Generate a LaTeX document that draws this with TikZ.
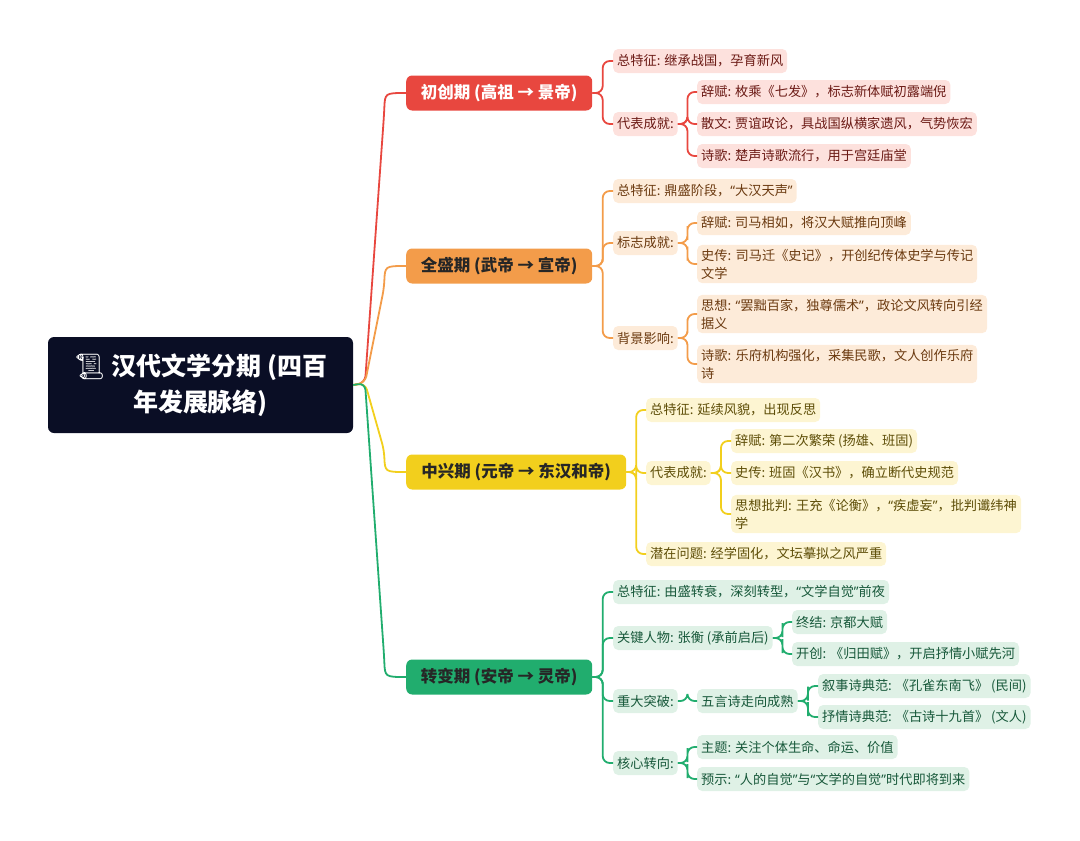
\documentclass[tikz,border=0pt]{standalone}
\usepackage{fontspec}
\setmainfont{Noto Sans CJK SC}
\newfontfamily\emo{Noto Emoji}
\newfontfamily\lat{Noto Sans}
\newcommand\qL{{\lat “}}\newcommand\qR{{\lat ”}}
\usetikzlibrary{calc}
\definecolor{rootc}{HTML}{0A0E25}
\definecolor{cR}{HTML}{E8473F}\definecolor{fR}{HTML}{FDE1DD}\definecolor{tR}{HTML}{6B1A15}
\definecolor{cO}{HTML}{F39C4A}\definecolor{fO}{HTML}{FDEBD9}\definecolor{tO}{HTML}{6B3A10}
\definecolor{cY}{HTML}{F2CF1D}\definecolor{fY}{HTML}{FDF5D2}\definecolor{tY}{HTML}{5E4E08}
\definecolor{cG}{HTML}{21AD6E}\definecolor{fG}{HTML}{DFF1E6}\definecolor{tG}{HTML}{17583A}
\tikzset{
 leaf/.style={anchor=west,rounded corners=5,inner xsep=4pt,inner ysep=4pt,minimum height=24,font=\fontsize{13.2}{18}\selectfont,align=left},
 branch/.style={anchor=west,rounded corners=6,inner xsep=10pt,minimum height=35,font=\fontsize{16.5}{18}\selectfont\bfseries},
 ln/.style={line width=1.8pt,rounded corners=7},
}
\newcommand\conn[3]{\draw[ln,#1] (#2.east) -| ($(#2.east)!.5!(#3.west)$) |- (#3.west);}
\begin{document}
\begin{tikzpicture}[x=1pt,y=-1pt]
\useasboundingbox (0,0) rectangle (1080,841);
\node[fill=rootc,text=white,rounded corners=6,minimum width=305,minimum height=96,align=center,font=\fontsize{25}{36}\selectfont\bfseries] (root) at (200.5,385) {{\emo 📜} 汉代文学分期 (四百\\年发展脉络)};
\coordinate (j) at (365,383);
\node[branch,fill=cR,text=white,minimum width=186] (b1) at (406,93) {初创期 (高祖 → 景帝)};
\node[branch,fill=cO,text=black!85,minimum width=186] (b2) at (406,266) {全盛期 (武帝 → 宣帝)};
\node[branch,fill=cY,text=black!85,minimum width=220] (b3) at (406,472) {中兴期 (元帝 → 东汉和帝)};
\node[branch,fill=cG,text=black!85,minimum width=186] (b4) at (406,677) {转变期 (安帝 → 灵帝)};
\draw[ln,cR] (root.east) -- (j) -- ($(b1.west)+(-22,22)$) .. controls ($(b1.west)+(-21,0)$) .. (b1.west);
\draw[ln,cO] (root.east) -- (j) -- ($(b2.west)+(-22,22)$) .. controls ($(b2.west)+(-21,0)$) .. (b2.west);
\draw[ln,cY] (root.east) -- (j) -- ($(b3.west)+(-22,-22)$) .. controls ($(b3.west)+(-21,0)$) .. (b3.west);
\draw[ln,cG] (root.east) -- (j) -- ($(b4.west)+(-22,-22)$) .. controls ($(b4.west)+(-21,0)$) .. (b4.west);
% branch 1
\begin{scope}[every node/.append style={fill=fR,text=tR}]
\node[leaf] (r1) at (613,61) {总特征: 继承战国，孕育新风};
\node[leaf] (r2) at (613,124) {代表成就:};
\node[leaf] (r21) at (697,92) {辞赋: 枚乘《七发》，标志新体赋初露端倪};
\node[leaf] (r22) at (697,124) {散文: 贾谊政论，具战国纵横家遗风，气势恢宏};
\node[leaf] (r23) at (697,156) {诗歌: 楚声诗歌流行，用于宫廷庙堂};
\end{scope}
\conn{cR}{b1}{r1}\conn{cR}{b1}{r2}\conn{cR}{r2}{r21}\conn{cR}{r2}{r22}\conn{cR}{r2}{r23}
% branch 2
\begin{scope}[every node/.append style={fill=fO,text=tO}]
\node[leaf] (o1) at (613,191) {总特征: 鼎盛阶段，\qL 大汉天声\qR};
\node[leaf] (o2) at (613,243) {标志成就:};
\node[leaf] (o21) at (697,223) {辞赋: 司马相如，将汉大赋推向顶峰};
\node[leaf,text width=272] (o22) at (697,264) {史传:~司马迁《史记》，开创纪传体史学与传记\\文学};
\node[leaf] (o3) at (613,338) {背景影响:};
\node[leaf,text width=282] (o31) at (697,314) {思想:~\qL 罢黜百家，独尊儒术\qR，政论文风转向引经\\据义};
\node[leaf,text width=272] (o32) at (697,364) {诗歌:~乐府机构强化，采集民歌，文人创作乐府\\诗};
\end{scope}
\conn{cO}{b2}{o1}\conn{cO}{b2}{o2}\conn{cO}{b2}{o3}\conn{cO}{o2}{o21}\conn{cO}{o2}{o22}\conn{cO}{o3}{o31}\conn{cO}{o3}{o32}
% branch 3
\begin{scope}[every node/.append style={fill=fY,text=tY}]
\node[leaf] (y1) at (646,410) {总特征: 延续风貌，出现反思};
\node[leaf] (y2) at (646,473) {代表成就:};
\node[leaf] (y21) at (731,441) {辞赋: 第二次繁荣 (扬雄、班固)};
\node[leaf] (y22) at (731,473) {史传: 班固《汉书》，确立断代史规范};
\node[leaf,text width=282] (y23) at (731,514) {思想批判:~王充《论衡》，\qL 疾虚妄\qR，批判谶纬神\\学};
\node[leaf] (y3) at (646,554) {潜在问题: 经学固化，文坛摹拟之风严重};
\end{scope}
\conn{cY}{b3}{y1}\conn{cY}{b3}{y2}\conn{cY}{b3}{y3}\conn{cY}{y2}{y21}\conn{cY}{y2}{y22}\conn{cY}{y2}{y23}
% branch 4
\begin{scope}[every node/.append style={fill=fG,text=tG}]
\node[leaf] (g1) at (613,592) {总特征: 由盛转衰，深刻转型，\qL 文学自觉\qR 前夜};
\node[leaf] (g2) at (613,638) {关键人物: 张衡 (承前启后)};
\node[leaf] (g21) at (792,622) {终结: 京都大赋};
\node[leaf] (g22) at (792,654) {开创: 《归田赋》，开启抒情小赋先河};
\node[leaf] (g3) at (613,701) {重大突破:};
\node[leaf] (g31) at (697,701) {五言诗走向成熟};
\node[leaf] (g311) at (818,686) {叙事诗典范: 《孔雀东南飞》 (民间)};
\node[leaf] (g312) at (818,717) {抒情诗典范: 《古诗十九首》 (文人)};
\node[leaf] (g4) at (613,763) {核心转向:};
\node[leaf] (g41) at (697,747) {主题: 关注个体生命、命运、价值};
\node[leaf] (g42) at (697,779) {预示: \qL 人的自觉\qR 与\qL 文学的自觉\qR 时代即将到来};
\end{scope}
\conn{cG}{b4}{g1}\conn{cG}{b4}{g2}\conn{cG}{b4}{g3}\conn{cG}{b4}{g4}
\conn{cG}{g2}{g21}\conn{cG}{g2}{g22}\conn{cG}{g3}{g31}\conn{cG}{g31}{g311}\conn{cG}{g31}{g312}
\conn{cG}{g4}{g41}\conn{cG}{g4}{g42}
\end{tikzpicture}
\end{document}
